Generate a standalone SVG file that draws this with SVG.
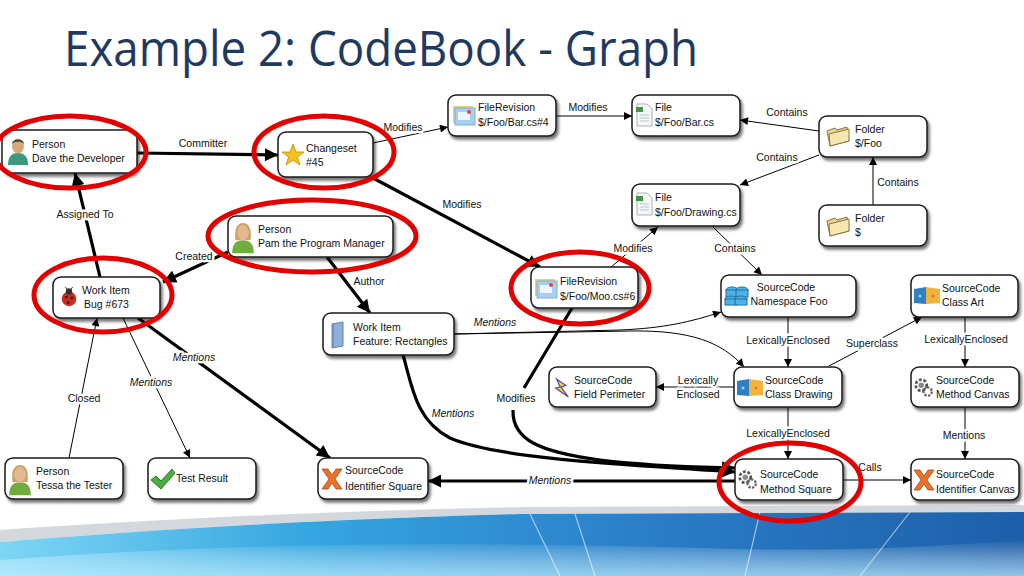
<svg xmlns="http://www.w3.org/2000/svg" xmlns:xlink="http://www.w3.org/1999/xlink" width="1024" height="576" viewBox="0 0 1024 576">
<style>
.node{fill:#fff;stroke:#1a1a1a;stroke-width:1.5;filter:url(#sh)}
.t{font-family:"Liberation Sans",Arial,sans-serif;font-size:10.5px;fill:#111}
.lbl{font-family:"Liberation Sans",Arial,sans-serif;font-size:10.5px;fill:#111;text-anchor:middle;paint-order:stroke;stroke:#fff;stroke-width:5px;stroke-linejoin:round}
.it{font-style:italic}
.e{fill:none;stroke:#000;stroke-width:1}
.e.thin{marker-end:url(#a1)}
.e.thick{stroke-width:3.2;marker-end:url(#a2)}
.ring{fill:none;stroke:#e50000;stroke-width:5}
.title{font-family:"Open Sans","Noto Sans",sans-serif;font-size:49px;fill:#1f3a60}
</style>
<defs>
<filter id="sh" x="-10%" y="-20%" width="130%" height="160%">
<feDropShadow dx="2" dy="3" stdDeviation="1.8" flood-color="#000" flood-opacity="0.55"/>
</filter>
<marker id="a1" viewBox="0 0 10 10" refX="10" refY="5" markerWidth="9" markerHeight="8" markerUnits="userSpaceOnUse" orient="auto"><path d="M0,0 L10,5 L0,10 Z" fill="#000"/></marker>
<marker id="a2" viewBox="0 0 10 10" refX="10" refY="5" markerWidth="16" markerHeight="13" markerUnits="userSpaceOnUse" orient="auto"><path d="M0,0 L10,5 L0,10 Z" fill="#000"/></marker>
<linearGradient id="blue" x1="0" y1="0" x2="1" y2="0">
<stop offset="0" stop-color="#7fd6f5"/><stop offset="0.3" stop-color="#35a6e0"/><stop offset="0.65" stop-color="#2a7cc6"/><stop offset="1" stop-color="#1d5fa9"/>
</linearGradient>
<linearGradient id="blue2" x1="0" y1="0" x2="0" y2="1">
<stop offset="0" stop-color="#ffffff" stop-opacity="0"/><stop offset="1" stop-color="#bff0ff" stop-opacity="0.7"/>
</linearGradient>
<symbol id="i-man" viewBox="0 0 24 30"><path d="M2,30 C2,21 6,18 12,18 C18,18 22,21 22,30 Z" fill="#3a9a7a"/><ellipse cx="12" cy="11" rx="6" ry="7.5" fill="#d9a77c"/><path d="M6,9 C6,3 18,3 18,9 C16,6 8,6 6,9 Z" fill="#4a4a4a"/></symbol>
<symbol id="i-woman" viewBox="0 0 24 30"><path d="M2,30 C2,21 6,18 12,18 C18,18 22,21 22,30 Z" fill="#6fae3e"/><path d="M5,18 C4,8 6,2 12,2 C18,2 20,8 19,18 Z" fill="#c9a46a"/><ellipse cx="12" cy="11" rx="5.2" ry="7" fill="#e6b892"/></symbol>
<symbol id="i-star" viewBox="0 0 24 24"><polygon points="12,1 15,9 23,9 16.5,14 19,22 12,17 5,22 7.5,14 1,9 9,9" fill="#f5c21b" stroke="#c98a00" stroke-width="0.8"/></symbol>
<symbol id="i-bug" viewBox="0 0 24 24"><circle cx="12" cy="14" r="8" fill="#d42a1e"/><circle cx="12" cy="6" r="3.5" fill="#333"/><circle cx="9" cy="12" r="1.5" fill="#222"/><circle cx="15" cy="13" r="1.5" fill="#222"/><circle cx="11" cy="18" r="1.5" fill="#222"/><path d="M10,4 L8,1 M14,4 L16,1" stroke="#333"/></symbol>
<symbol id="i-folder" viewBox="0 0 26 22"><path d="M2,6 L10,3 L12,5 L22,2 L24,16 L5,21 Z" fill="#e9d48f" stroke="#8a7340"/><path d="M4,9 L24,4 L24,16 L5,21 Z" fill="#f6e7b0" stroke="#8a7340"/></symbol>
<symbol id="i-file" viewBox="0 0 20 24"><path d="M3,1 L13,1 L18,6 L18,23 L3,23 Z" fill="#f4f6f8" stroke="#a9b3bd"/><path d="M6,12 H15 M6,15 H15 M6,18 H15" stroke="#b8c6d3"/><path d="M2,4 H9 V9 H2 Z" fill="#3f9a3f"/></symbol>
<symbol id="i-rev" viewBox="0 0 24 22"><rect x="1" y="2" width="20" height="17" fill="#e4d27a"/><rect x="3" y="4" width="20" height="17" fill="#a7d0ee" stroke="#7eaed3"/><rect x="6" y="8" width="12" height="8" fill="#eef6fc"/><circle cx="17" cy="8" r="2" fill="#d44"/></symbol>
<symbol id="i-ns" viewBox="0 0 28 26"><g fill="#4fb2e6" stroke="#1f6ea3"><ellipse cx="9" cy="8" rx="6" ry="3"/><rect x="3" y="8" width="12" height="7"/><ellipse cx="19" cy="8" rx="6" ry="3"/><rect x="13" y="8" width="12" height="7"/><ellipse cx="8" cy="17" rx="6" ry="3"/><rect x="2" y="17" width="12" height="6"/><ellipse cx="18" cy="17" rx="6" ry="3"/><rect x="12" y="17" width="12" height="6"/></g></symbol>
<symbol id="i-class" viewBox="0 0 28 22"><path d="M1,5 L13,3 L13,20 L1,19 Z" fill="#2e7fc4"/><path d="M13,3 L27,5 L27,19 L13,20 Z" fill="#f3b33a"/><circle cx="7" cy="12" r="1.5" fill="#9dd"/><circle cx="20" cy="12" r="1.5" fill="#d73"/></symbol>
<symbol id="i-gear" viewBox="0 0 24 24"><circle cx="9" cy="10" r="6" fill="none" stroke="#555" stroke-width="3" stroke-dasharray="3 2"/><circle cx="9" cy="10" r="3" fill="#888"/><circle cx="16" cy="17" r="4.5" fill="none" stroke="#666" stroke-width="2.5" stroke-dasharray="2.5 1.5"/></symbol>
<symbol id="i-field" viewBox="0 0 22 24"><path d="M5,2 L15,9 L10,11 L18,22 L4,12 L9,11 Z" fill="#f2d14a" stroke="#5a4ea0" stroke-width="1.4"/></symbol>
<symbol id="i-x" viewBox="0 0 24 24"><path d="M2,2 L8,2 L12,8 L16,2 L22,2 L15,12 L22,22 L16,22 L12,16 L8,22 L2,22 L9,12 Z" fill="#e9722a" stroke="#b04a12" stroke-width="0.8"/></symbol>
<symbol id="i-check" viewBox="0 0 26 22"><path d="M1,12 L6,8 L11,13 L22,1 L25,5 L11,21 Z" fill="#4cae3e" stroke="#2c7a24"/></symbol>
<symbol id="i-book" viewBox="0 0 18 28"><path d="M3,3 L14,1 L14,25 L3,27 Z" fill="#8fb0d8" stroke="#5e82b0"/><path d="M3,3 L5,2 L5,26 L3,27 Z" fill="#6f92c2"/></symbol>
</defs>

<rect x="0" y="0" width="1024" height="576" fill="#fff"/>

<g id="background">
<path d="M0,530 C150,520 300,512 520,507 L1024,505 L1024,512 L520,514 C300,520 150,530 0,542 Z" fill="#c9ced3" opacity="0.8"/>
<path d="M0,542 C150,530 300,520 520,514 L1024,512 L1024,576 L0,576 Z" fill="url(#blue)"/>
<path d="M0,560 C200,545 400,540 700,548 C850,553 950,545 1024,540 L1024,576 L0,576 Z" fill="url(#blue2)"/>
<path d="M530,514 L560,576 M575,514 L595,576 M760,512 L745,576 M910,512 L860,576" stroke="#e8f8ff" stroke-width="1.2" opacity="0.6"/>
</g>

<text class="title" x="64" y="66" textLength="634" lengthAdjust="spacingAndGlyphs">Example 2: CodeBook - Graph</text>

<g id="connectors">
<path class="e thick" d="M137,153 L278,155"/>
<path class="e thin" d="M373,143 L448,127"/>
<path class="e thin" d="M556,116 L632,116"/>
<path class="e thin" d="M819,131 L740,120"/>
<path class="e thin" d="M819,155 L740,185"/>
<path class="e thin" d="M873,205 L873,157"/>
<path class="e thick" d="M373,178 L540,267"/>
<path class="e thin" d="M610,268 L658,227"/>
<path class="e thin" d="M712,226 L762,275"/>
<path class="e thick" d="M228,252 L163,282"/>
<path class="e thick" d="M100,277 L75,173"/>
<path class="e thick" d="M327,257 L370,313"/>
<path class="e thin" d="M69,458 L97,318"/>
<path class="e thin" d="M123,318 L190,458"/>
<path class="e thick" d="M138,318 L330,458"/>
<path class="e thin" d="M454,334 L620,330 C665,328 690,322 721,312"/>
<path class="e thin" d="M454,334 L630,331 C690,330 722,342 744,367"/>
<path class="e thick" d="M403,355 C412,385 415,420 450,438 C500,460 640,465 735,472"/>
<path class="e thick" d="M572,308 L524,388 M513,410 C512,440 540,452 600,460 C660,467 700,467 735,468"/>
<path class="e thick" d="M735,481 L428,481"/>
<path class="e thin" d="M788,317 L788,367"/>
<path class="e thin" d="M829,366 L922,317"/>
<path class="e thin" d="M965,317 L965,367"/>
<path class="e thin" d="M734,387 L656,387"/>
<path class="e thin" d="M788,407 L788,459"/>
<path class="e thin" d="M965,407 L965,459"/>
<path class="e thin" d="M843,480 L911,480"/>
</g>

<g id="edge-labels">
<text class="lbl" x="203" y="147">Committer</text>
<text class="lbl" x="403" y="131">Modifies</text>
<text class="lbl" x="588" y="111">Modifies</text>
<text class="lbl" x="787" y="116">Contains</text>
<text class="lbl" x="777" y="161">Contains</text>
<text class="lbl" x="898" y="186">Contains</text>
<text class="lbl" x="462" y="208">Modifies</text>
<text class="lbl" x="633" y="252">Modifies</text>
<text class="lbl" x="735" y="252">Contains</text>
<text class="lbl" x="194" y="260">Created</text>
<text class="lbl" x="85" y="218">Assigned To</text>
<text class="lbl" x="369" y="285">Author</text>
<text class="lbl" x="84" y="402">Closed</text>
<text class="lbl it" x="151" y="386">Mentions</text>
<text class="lbl it" x="194" y="361">Mentions</text>
<text class="lbl it" x="495" y="326">Mentions</text>
<text class="lbl it" x="453" y="417">Mentions</text>
<text class="lbl" x="516" y="402">Modifies</text>
<text class="lbl it" x="550" y="484">Mentions</text>
<text class="lbl" x="698" y="384">Lexically</text>
<text class="lbl" x="698" y="398">Enclosed</text>
<text class="lbl" x="788" y="344">LexicallyEnclosed</text>
<text class="lbl" x="872" y="347">Superclass</text>
<text class="lbl" x="966" y="343">LexicallyEnclosed</text>
<text class="lbl" x="788" y="437">LexicallyEnclosed</text>
<text class="lbl" x="964" y="439">Mentions</text>
<text class="lbl" x="870" y="471">Calls</text>
</g>

<g id="n-dave"><rect class="node" x="2" y="130" width="135" height="43" rx="8"/><use href="#i-man" x="6" y="134" width="24" height="32"/><text class="t" x="32" y="148">Person</text><text class="t" x="32" y="162">Dave the Developer</text></g>
<g id="n-changeset"><rect class="node" x="278" y="132" width="95" height="45" rx="8"/><use href="#i-star" x="281" y="142" width="24" height="26"/><text class="t" x="306" y="152">Changeset</text><text class="t" x="306" y="166">#45</text></g>
<g id="n-pam"><rect class="node" x="228" y="216" width="165" height="41" rx="8"/><use href="#i-woman" x="230" y="220" width="26" height="34"/><text class="t" x="258" y="233">Person</text><text class="t" x="258" y="247">Pam the Program Manager</text></g>
<g id="n-bug"><rect class="node" x="53" y="277" width="107" height="41" rx="8"/><use href="#i-bug" x="58" y="285" width="22" height="24"/><text class="t" x="82" y="294">Work Item</text><text class="t" x="84" y="308">Bug #673</text></g>
<g id="n-rev-bar"><rect class="node" x="448" y="95" width="108" height="41" rx="8"/><use href="#i-rev" x="452" y="104" width="24" height="22"/><text class="t" x="478" y="111">FileRevision</text><text class="t" x="478" y="126">$/Foo/Bar.cs#4</text></g>
<g id="n-file-bar"><rect class="node" x="632" y="95" width="108" height="41" rx="8"/><use href="#i-file" x="634" y="103" width="20" height="24"/><text class="t" x="655" y="111">File</text><text class="t" x="655" y="126">$/Foo/Bar.cs</text></g>
<g id="n-folder-foo"><rect class="node" x="819" y="116" width="108" height="41" rx="8"/><use href="#i-folder" x="825" y="124" width="26" height="24"/><text class="t" x="855" y="133">Folder</text><text class="t" x="855" y="147">$/Foo</text></g>
<g id="n-file-drawing"><rect class="node" x="632" y="184" width="108" height="42" rx="8"/><use href="#i-file" x="634" y="192" width="20" height="24"/><text class="t" x="655" y="201">File</text><text class="t" x="655" y="216">$/Foo/Drawing.cs</text></g>
<g id="n-folder-root"><rect class="node" x="819" y="205" width="108" height="41" rx="8"/><use href="#i-folder" x="825" y="214" width="26" height="24"/><text class="t" x="855" y="222">Folder</text><text class="t" x="855" y="236">$</text></g>
<g id="n-rev-moo"><rect class="node" x="531" y="267" width="107" height="41" rx="8"/><use href="#i-rev" x="534" y="277" width="24" height="22"/><text class="t" x="560" y="285">FileRevision</text><text class="t" x="560" y="300">$/Foo/Moo.cs#6</text></g>
<g id="n-namespace"><rect class="node" x="721" y="275" width="135" height="42" rx="8"/><use href="#i-ns" x="723" y="281" width="28" height="28"/><text class="t" x="786" y="291" text-anchor="middle">SourceCode</text><text class="t" x="789" y="305" text-anchor="middle">Namespace Foo</text></g>
<g id="n-class-art"><rect class="node" x="911" y="275" width="107" height="42" rx="8"/><use href="#i-class" x="913" y="284" width="28" height="22"/><text class="t" x="942" y="292">SourceCode</text><text class="t" x="942" y="306">Class Art</text></g>
<g id="n-feature"><rect class="node" x="323" y="313" width="131" height="42" rx="8"/><use href="#i-book" x="329" y="320" width="18" height="30"/><text class="t" x="353" y="331">Work Item</text><text class="t" x="353" y="345">Feature: Rectangles</text></g>
<g id="n-field"><rect class="node" x="549" y="367" width="107" height="40" rx="8"/><use href="#i-field" x="552" y="376" width="20" height="24"/><text class="t" x="574" y="384">SourceCode</text><text class="t" x="574" y="398">Field Perimeter</text></g>
<g id="n-class-drawing"><rect class="node" x="734" y="367" width="108" height="40" rx="8"/><use href="#i-class" x="736" y="376" width="28" height="22"/><text class="t" x="765" y="384">SourceCode</text><text class="t" x="765" y="398">Class Drawing</text></g>
<g id="n-method-canvas"><rect class="node" x="911" y="367" width="108" height="40" rx="8"/><use href="#i-gear" x="913" y="375" width="22" height="24"/><text class="t" x="936" y="384">SourceCode</text><text class="t" x="936" y="398">Method Canvas</text></g>
<g id="n-tessa"><rect class="node" x="5" y="458" width="118" height="41" rx="8"/><use href="#i-woman" x="7" y="462" width="26" height="34"/><text class="t" x="36" y="475">Person</text><text class="t" x="36" y="489">Tessa the Tester</text></g>
<g id="n-test"><rect class="node" x="148" y="458" width="108" height="41" rx="8"/><use href="#i-check" x="150" y="467" width="26" height="24"/><text class="t" x="176" y="482">Test Result</text></g>
<g id="n-ident-square"><rect class="node" x="318" y="458" width="110" height="41" rx="8"/><use href="#i-x" x="320" y="466" width="24" height="26"/><text class="t" x="345" y="474">SourceCode</text><text class="t" x="345" y="490">Identifier Square</text></g>
<g id="n-method-square"><rect class="node" x="735" y="459" width="108" height="41" rx="8"/><use href="#i-gear" x="737" y="467" width="22" height="24"/><text class="t" x="760" y="478">SourceCode</text><text class="t" x="760" y="493">Method Square</text></g>
<g id="n-ident-canvas"><rect class="node" x="911" y="459" width="108" height="41" rx="8"/><use href="#i-x" x="912" y="467" width="24" height="26"/><text class="t" x="936" y="478">SourceCode</text><text class="t" x="936" y="493">Identifier Canvas</text></g>

<g id="highlights">
<ellipse class="ring" cx="70" cy="152" rx="76" ry="36"/>
<ellipse class="ring" cx="324" cy="152" rx="70" ry="36"/>
<ellipse class="ring" cx="312" cy="236" rx="104" ry="36"/>
<ellipse class="ring" cx="103" cy="295" rx="69" ry="37"/>
<ellipse class="ring" cx="580" cy="288" rx="69" ry="36"/>
<ellipse class="ring" cx="790" cy="482" rx="71" ry="39"/>
</g>
</svg>
